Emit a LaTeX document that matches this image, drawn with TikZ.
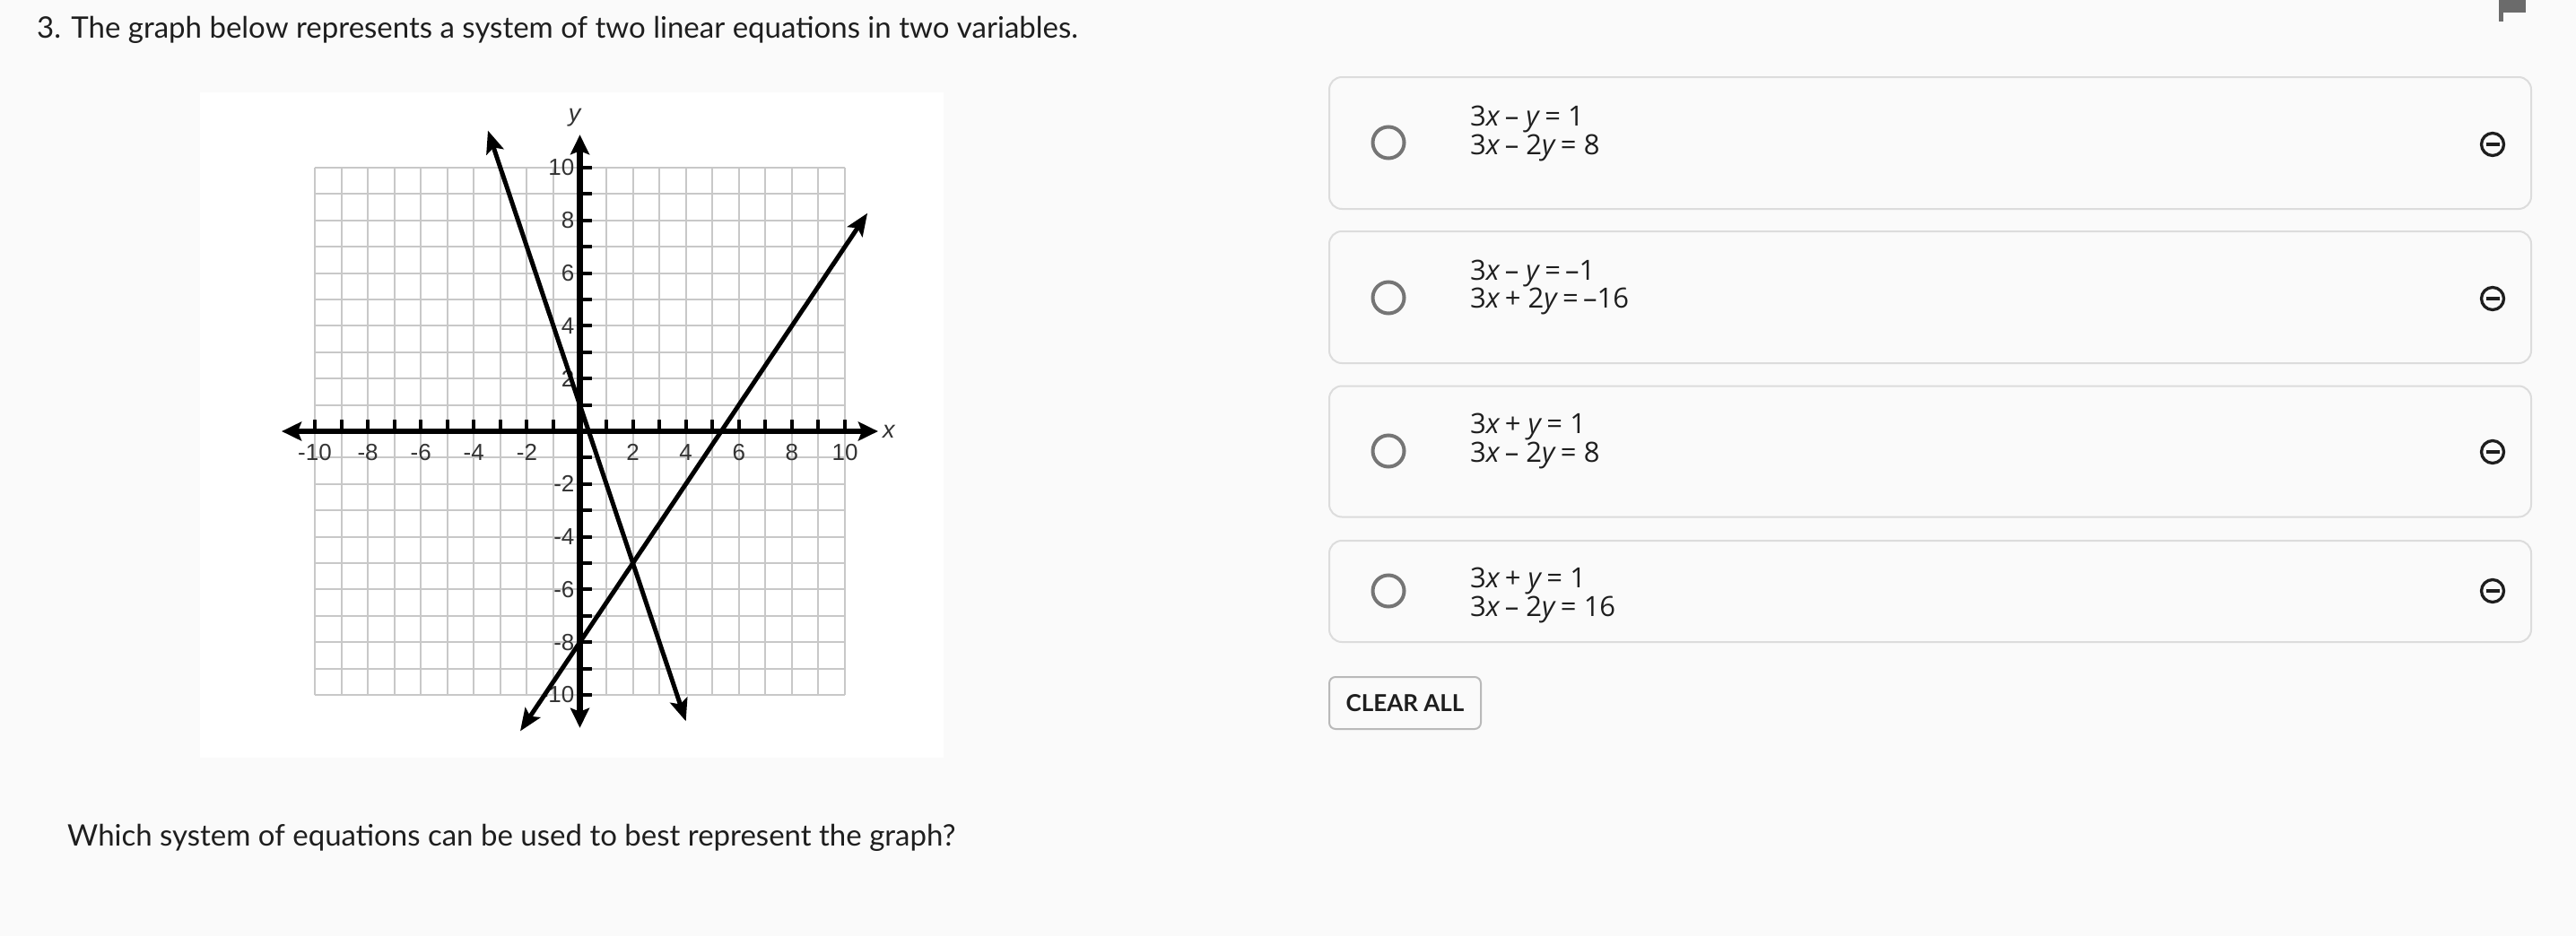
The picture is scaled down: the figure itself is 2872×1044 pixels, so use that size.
\documentclass[tikz,border=0pt]{standalone}
\usepackage{fontspec}
\setmainfont{Lato}
\newfontfamily\eqfont{Open Sans}
\newfontfamily\axisfont{Liberation Sans}
\usepackage{xcolor}
\usetikzlibrary{arrows.meta}
\definecolor{pagebg}{HTML}{FAFAFA}
\definecolor{ink}{HTML}{1E1E1E}
\definecolor{boxgray}{HTML}{DCDCDC}
\definecolor{radiogray}{HTML}{757575}
\definecolor{gridgray}{HTML}{C8C8C8}
\definecolor{flaggray}{HTML}{6B6B6B}
\tikzset{
    option-box/.style = {draw=boxgray, fill=pagebg, line width=2pt, rectangle, rounded corners=14pt, minimum width=1340pt, inner sep=0pt},
    radio-btn/.style = {draw=radiogray, circle, line width=4pt, minimum size=35pt, inner sep=0pt},
    remove-icon/.style = {draw=ink, circle, line width=3.3pt, minimum size=25pt, inner sep=0pt},
    remove-bar/.style = {draw=ink, line width=3.3pt},
    eq-line/.style = {anchor=base west, inner sep=0pt, text=ink, font=\eqfont\fontsize{31}{32}\selectfont},
    prompt-text/.style = {anchor=base west, inner sep=0pt, text=ink, font=\fontsize{33}{38}\selectfont},
    clear-btn/.style = {draw=gray!55, fill=pagebg, line width=2pt, rounded corners=7pt, minimum width=169pt, minimum height=58pt, text=ink, font=\bfseries\fontsize{26}{30}\selectfont},
    grid-line/.style = {draw=gridgray, line width=2pt},
    axis-line/.style = {draw=black, line width=6.5pt, {Stealth[length=22pt,width=21pt,inset=4pt]}-{Stealth[length=22pt,width=21pt,inset=4pt]}},
    graph-line/.style = {draw=black, line width=5pt, {Stealth[length=25pt,width=20pt,inset=5pt]}-{Stealth[length=25pt,width=20pt,inset=5pt]}},
    tick-mark/.style = {draw=black, line width=4pt},
    tick-label/.style = {text=black!80, inner sep=0pt, font=\axisfont\fontsize{26}{26}\selectfont},
    axis-name/.style = {text=black!80, inner sep=0pt, font=\axisfont\itshape\fontsize{27}{27}\selectfont},
}
\newcommand{\eqminus}{\,–\ }
\newcommand{\eqplus}{\,+\ }

\begin{document}
\begin{tikzpicture}[x=1pt, y=-1pt]
\useasboundingbox (0,0) rectangle (2872,1044);
\fill[pagebg] (0,0) rectangle (2872,1044);

% question text
\node[prompt-text] (title) at (41,42) {3. The graph below represents a system of two linear equations in two variables.};
\node[prompt-text] (question) at (75,943) {Which system of equations can be used to best represent the graph?};

% flag in the corner
\fill[flaggray] (2786,0) rectangle (2816,14);
\fill[flaggray] (2786,0) rectangle (2791,24);

% the graph picture
\fill[white] (223,103) rectangle (1052,845);
\begin{scope}[shift={(646.5,481)}, x=29.55pt, y=29.4pt]
  \draw[grid-line, step=1] (-10,-10) grid (10,10);
  \draw[axis-line] (-11.25,0) -- (11.25,0);
  \draw[axis-line] (0,-11.25) -- (0,11.25);
  \foreach \i in {-10,...,-1,1,2,...,10} {
    \draw[tick-mark] (\i,0) -- (\i,0.45);
    \draw[tick-mark] (0,\i) -- (0.45,\i);
  }
  \foreach \i in {-10,-8,...,-2,2,4,...,10} {
    \node[tick-label, anchor=base] (xl\i) at (\i,-1.12) {\i};
    \node[tick-label, anchor=east] (yl\i) at (-0.2,\i) {\i};
  }
  \node[axis-name] (xname) at (11.65,0) {x};
  \node[axis-name] (yname) at (-0.2,11.9) {y};
  % 3x + y = 1
  \draw[graph-line] (-3.47,11.41) -- (4.0,-11);
  % 3x - 2y = 16
  \draw[graph-line] (-2.25,-11.375) -- (10.85,8.275);
\end{scope}

% option 1
\node[option-box, minimum height=147pt] (opt1) at (2152,159.5) {};
\node[radio-btn] (radio1) at (1548,159) {};
\node[eq-line] (eq1a) at (1639,140) {3\textit{x}\eqminus\textit{y}\,= 1};
\node[eq-line] (eq1b) at (1639,172) {3\textit{x}\eqminus 2\textit{y}\,= 8};
\node[remove-icon] (rm1) at (2779,161) {};
\draw[remove-bar] ([xshift=-7.5pt]rm1.center) -- ([xshift=7.5pt]rm1.center);

% option 2
\node[option-box, minimum height=147pt] (opt2) at (2152,331.5) {};
\node[radio-btn] (radio2) at (1548,332) {};
\node[eq-line] (eq2a) at (1639,312) {3\textit{x}\eqminus\textit{y}\,=\,–1};
\node[eq-line] (eq2b) at (1639,343) {3\textit{x}\eqplus 2\textit{y}\,=\,–16};
\node[remove-icon] (rm2) at (2779,333) {};
\draw[remove-bar] ([xshift=-7.5pt]rm2.center) -- ([xshift=7.5pt]rm2.center);

% option 3
\node[option-box, minimum height=146pt] (opt3) at (2152,503.5) {};
\node[radio-btn] (radio3) at (1548,503) {};
\node[eq-line] (eq3a) at (1639,483) {3\textit{x}\eqplus\textit{y}\,= 1};
\node[eq-line] (eq3b) at (1639,515) {3\textit{x}\eqminus 2\textit{y}\,= 8};
\node[remove-icon] (rm3) at (2779,504) {};
\draw[remove-bar] ([xshift=-7.5pt]rm3.center) -- ([xshift=7.5pt]rm3.center);

% option 4
\node[option-box, minimum height=113pt] (opt4) at (2152,659.5) {};
\node[radio-btn] (radio4) at (1548,659) {};
\node[eq-line] (eq4a) at (1639,655) {3\textit{x}\eqplus\textit{y}\,= 1};
\node[eq-line] (eq4b) at (1639,687) {3\textit{x}\eqminus 2\textit{y}\,= 16};
\node[remove-icon] (rm4) at (2779,659) {};
\draw[remove-bar] ([xshift=-7.5pt]rm4.center) -- ([xshift=7.5pt]rm4.center);

\node[clear-btn] (clear) at (1566.5,784) {CLEAR ALL};
\end{tikzpicture}
\end{document}
